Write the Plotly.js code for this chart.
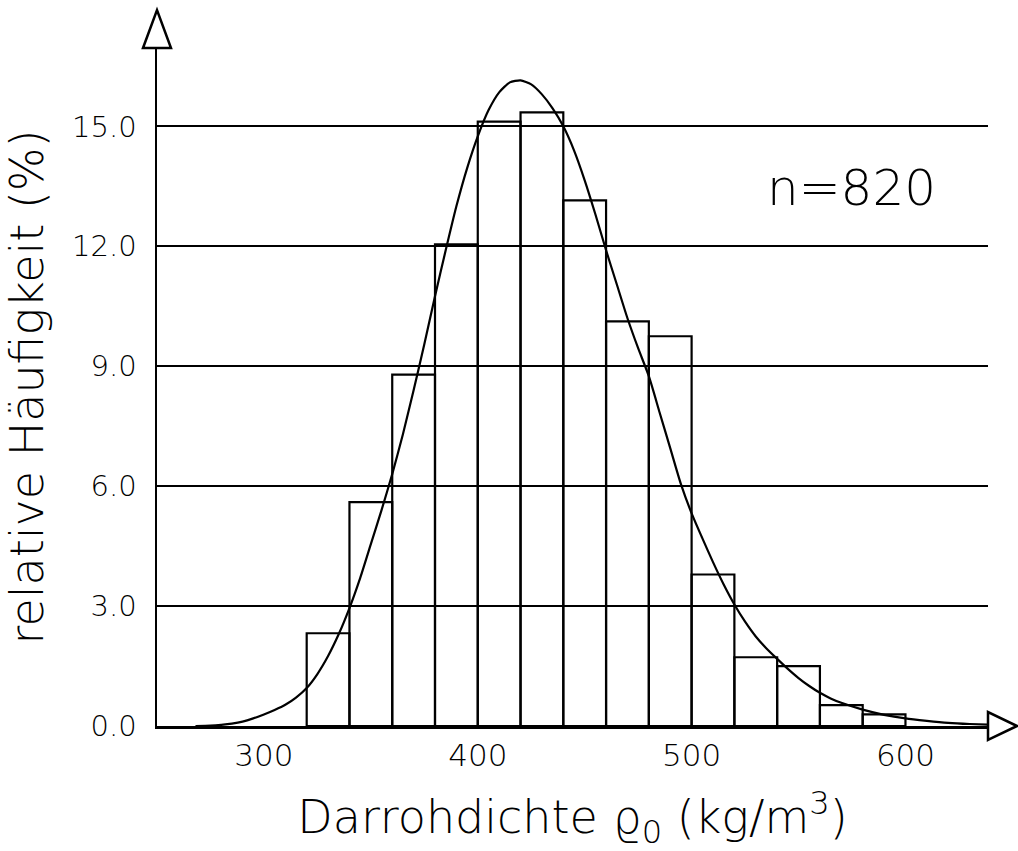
<!DOCTYPE html>
<html>
<head>
<meta charset="utf-8">
<script src="https://cdn.plot.ly/plotly-3.0.1.min.js"></script>
<style>
  html, body { margin: 0; padding: 0; background: #ffffff; }
  #chart { width: 1018px; height: 851px; }
</style>
</head>
<body>
<div id="chart"></div>
<script>
// Histogram bins (lower edge, kg/m^3) and relative frequency (%)
const binStart = [320, 340, 360, 380, 400, 420, 440, 460, 480, 500, 520, 540, 560, 580];
const binWidth = 20;
const relFreq = [2.32, 5.60, 8.79, 12.05, 15.12, 15.35, 13.15, 10.12, 9.75, 3.79, 1.72, 1.50, 0.52, 0.29];

// Fitted density curve
const curveX = [268, 275, 280, 285, 290, 295, 300, 305, 310, 315, 320, 325, 330, 335, 340, 345, 350, 355, 360, 365, 370, 375, 380, 385, 390, 395, 400, 405, 410, 415, 420, 425, 430, 435, 440, 445, 450, 455, 460, 465, 470, 475, 480, 485, 490, 495, 500, 505, 510, 515, 520, 525, 530, 535, 540, 545, 550, 555, 560, 565, 570, 580, 590, 600, 610, 620, 630, 640];
const curveY = [0.0, 0.01, 0.03, 0.06, 0.11, 0.19, 0.29, 0.40, 0.53, 0.71, 0.95, 1.30, 1.75, 2.30, 2.95, 3.70, 4.55, 5.40, 6.30, 7.30, 8.40, 9.55, 10.75, 11.90, 13.00, 13.95, 14.75, 15.40, 15.85, 16.10, 16.15, 16.05, 15.80, 15.45, 15.00, 14.40, 13.65, 12.80, 11.90, 11.05, 10.20, 9.45, 8.75, 7.85, 6.95, 6.05, 5.32, 4.70, 4.10, 3.54, 3.04, 2.61, 2.24, 1.94, 1.68, 1.43, 1.20, 1.00, 0.83, 0.69, 0.58, 0.41, 0.28, 0.19, 0.13, 0.08, 0.05, 0.03];

const yTicks = [0, 3, 6, 9, 12, 15];
const yTickText = ["0.0", "3.0", "6.0", "9.0", "12.0", "15.0"];
const xTicks = [300, 400, 500, 600];
const xTickText = ["300", "400", "500", "600"];

const sampleLabel = "n=820";
const xTitle = "Darrohdichte ϱ<sub>0</sub> (kg/m<sup>3</sup>)";
const yTitle = "relative Häufigkeit (%)";

const FONT = "DejaVu Sans, Liberation Sans, sans-serif";

const traces = [
  {
    type: "bar",
    x: binStart,
    y: relFreq,
    width: binWidth,
    offset: 0,
    marker: { color: "rgba(0,0,0,0)", line: { color: "#000", width: 2.2 } },
    hoverinfo: "x+y",
    showlegend: false
  },
  {
    type: "scatter",
    mode: "lines",
    x: curveX,
    y: curveY,
    line: { color: "#000", width: 2.2, shape: "spline", smoothing: 0.6 },
    cliponaxis: true,
    showlegend: false
  }
];

const W = 1018, H = 851;
const mL = 157, mR = 30, mT = 48, mB = 124.5;
const pw = W - mL - mR, ph = H - mT - mB;

// arrow heads (decoration) in paper fractions
const axA = 29 / pw, axH = 14 / ph;     // x arrow length / half-height
const ayA = 38 / ph, ayW = 14 / pw;     // y arrow length / half-width

const layout = {
  width: W,
  height: H,
  paper_bgcolor: "#fff",
  plot_bgcolor: "#fff",
  margin: { l: mL, r: mR, t: mT, b: mB, pad: 0 },
  font: { family: FONT, color: "#000", weight: 300 },
  xaxis: {
    range: [250, 638.6],
    tickmode: "array",
    tickvals: xTicks,
    ticktext: xTickText,
    ticks: "",
    showgrid: false,
    zeroline: false,
    showline: true,
    linecolor: "#000",
    linewidth: 2.5,
    ticklabelstandoff: 0,
    tickfont: { family: FONT, size: 31, color: "#000", weight: 300 },
    title: { text: xTitle, font: { family: FONT, size: 46, color: "#000", weight: 300 }, standoff: 30 },
    automargin: false,
    fixedrange: true
  },
  yaxis: {
    range: [0, 16.96],
    tickmode: "array",
    tickvals: yTicks,
    ticktext: yTickText,
    ticks: "",
    showgrid: true,
    gridcolor: "#000",
    gridwidth: 2,
    zeroline: false,
    showline: true,
    linecolor: "#000",
    linewidth: 2.5,
    ticklabelstandoff: 12,
    tickfont: { family: FONT, size: 29, color: "#000", weight: 300 },
    title: { text: yTitle, font: { family: FONT, size: 46, color: "#000", weight: 300 }, standoff: 14 },
    automargin: false,
    fixedrange: true
  },
  annotations: [
    {
      text: sampleLabel,
      xref: "x", yref: "y",
      x: 575, y: 13.45,
      showarrow: false,
      font: { family: FONT, size: 50, color: "#000", weight: 300 },
      xanchor: "center", yanchor: "middle"
    }
  ],
  shapes: [
    {
      type: "path", xref: "paper", yref: "paper",
      path: `M 1 ${-axH} L ${1 + axA} 0 L 1 ${axH} Z`,
      fillcolor: "#fff", line: { color: "#000", width: 2.5 }, layer: "above"
    },
    {
      type: "path", xref: "paper", yref: "paper",
      path: `M ${-ayW} 1 L 0 ${1 + ayA} L ${ayW} 1 Z`,
      fillcolor: "#fff", line: { color: "#000", width: 2.5 }, layer: "above"
    }
  ]
};

Plotly.newPlot("chart", traces, layout, { displayModeBar: false, staticPlot: true });
</script>
</body>
</html>
